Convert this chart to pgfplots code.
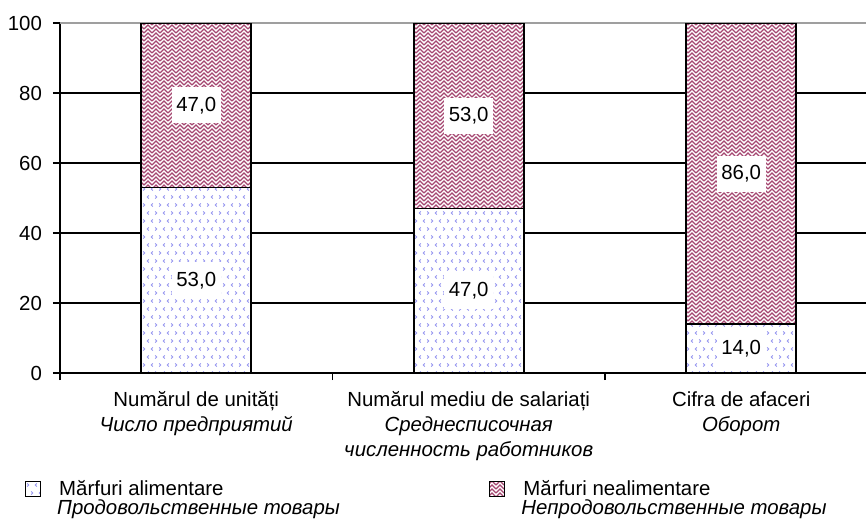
\documentclass[border=0pt]{standalone}
\usepackage{fontspec}
\setmainfont{Liberation Sans}
\usepackage{pgfplots}
\pgfplotsset{compat=1.18}
\usetikzlibrary{patterns}

\definecolor{foodc}{RGB}{150,150,240}
\definecolor{nonfoodc}{RGB}{165,70,112}

\pgfdeclarepatternformonly{foodpat}{\pgfqpoint{-1pt}{-1pt}}{\pgfqpoint{9pt}{9pt}}{\pgfqpoint{8pt}{8pt}}{%
  \pgfsetlinewidth{0.45pt}%
  \pgfpathmoveto{\pgfqpoint{2.4pt}{2.8pt}}\pgfpathlineto{\pgfqpoint{1.6pt}{2pt}}\pgfpathlineto{\pgfqpoint{2.4pt}{1.2pt}}%
  \pgfpathmoveto{\pgfqpoint{5.6pt}{2.8pt}}\pgfpathlineto{\pgfqpoint{6.4pt}{2pt}}\pgfpathlineto{\pgfqpoint{5.6pt}{1.2pt}}%
  \pgfpathmoveto{\pgfqpoint{4.4pt}{6.8pt}}\pgfpathlineto{\pgfqpoint{3.6pt}{6pt}}\pgfpathlineto{\pgfqpoint{4.4pt}{5.2pt}}%
  \pgfpathmoveto{\pgfqpoint{7.6pt}{6.8pt}}\pgfpathlineto{\pgfqpoint{8.4pt}{6pt}}\pgfpathlineto{\pgfqpoint{7.6pt}{5.2pt}}%
  \pgfusepath{stroke}}

\pgfdeclarepatternformonly{weavepat}{\pgfqpoint{-0.5pt}{-0.5pt}}{\pgfqpoint{4.5pt}{4.5pt}}{\pgfqpoint{4pt}{4pt}}{%
  \pgfsetlinewidth{0.6pt}%
  \pgfpathmoveto{\pgfqpoint{0pt}{0pt}}\pgfpathlineto{\pgfqpoint{2pt}{2pt}}\pgfpathlineto{\pgfqpoint{4pt}{0pt}}%
  \pgfpathmoveto{\pgfqpoint{0pt}{2pt}}\pgfpathlineto{\pgfqpoint{2pt}{4pt}}\pgfpathlineto{\pgfqpoint{4pt}{2pt}}%
  \pgfusepath{stroke}}

\pgfplotsset{boxlegend/.style={legend image code/.code={\draw[##1, line width=0.6pt] (0pt,-0.5pt) rectangle (7.5pt,7pt);}}}

\newcommand\lab{\fontsize{10.2pt}{12.5pt}\selectfont}
\newcommand\legA{\vtop{\baselineskip=9.5pt\lineskiplimit=-20pt
  \hbox to 224pt{\hspace*{9pt}Mărfuri alimentare\hfil}
  \hbox{\hspace*{8pt}\itshape Продовольственные товары}}}
\newcommand\legB{\vtop{\baselineskip=9.5pt\lineskiplimit=-20pt
  \hbox{\hspace*{9pt}Mărfuri nealimentare}
  \hbox{\hspace*{8pt}\itshape Непродовольственные товары}}}

\begin{document}
\begin{tikzpicture}
\useasboundingbox (0,0) rectangle (433pt,260.5pt);
\begin{axis}[
  at={(30pt,74pt)}, anchor=south west,
  scale only axis, width=403pt, height=175pt,
  xmin=-0.5, xmax=2.458, ymin=0, ymax=100,
  axis x line=bottom, axis y line=left,
  axis line style={-, line width=0.9pt, black},
  ybar stacked, bar width=55pt,
  xtick={-0.5,0.5,1.5}, xticklabels={,,},
  extra x ticks={0,1,2},
  extra x tick labels={{Numărul de unități\\\textit{Число предприятий}},
    {Numărul mediu de salariați\\\textit{Среднесписочная}\\\textit{численность работников}},
    {Cifra de afaceri\\\textit{Оборот}}},
  extra x tick style={tick style={draw=none}},
  ytick={0,20,40,60,80}, extra y ticks={100},
  ymajorgrids,
  major grid style={line width=0.9pt, black},
  extra y tick style={major grid style={line width=0.9pt, color=gray!75}},
  tick align=outside, major tick length=3.5pt,
  tick style={line width=0.9pt, black},
  /pgf/number format/assume math mode=true,
  tick label style={font=\lab},
  xticklabel style={align=center, inner sep=0pt, yshift=-5.5pt},
  yticklabel style={xshift=-2pt},
  legend columns=2,
  legend style={at={(axis description cs:-0.0434,-0.308)}, anchor=north west,
    draw=none, fill=none, inner sep=0pt, outer sep=0pt, column sep=0pt, row sep=0pt,
    font=\lab, cells={anchor=base west}, nodes={inner sep=0pt, text depth=}},
]
\addplot[fill=white, draw=black, line width=0.9pt,
  postaction={pattern=foodpat, pattern color=foodc}, boxlegend]
  coordinates {(0,53) (1,47) (2,14)};
\addplot[fill=white, draw=black, line width=0.9pt,
  postaction={pattern=weavepat, pattern color=nonfoodc}, boxlegend]
  coordinates {(0,47) (1,53) (2,86)};
\legend{\legA,\legB}
\end{axis}
\begin{axis}[
  at={(30pt,74pt)}, anchor=south west,
  scale only axis, width=403pt, height=175pt,
  xmin=-0.5, xmax=2.458, ymin=0, ymax=100,
  hide axis, clip=false]
\addplot[draw=none, mark=none, point meta=explicit symbolic, nodes near coords,
  nodes near coords style={anchor=center, fill=white, font=\lab, inner xsep=2.3pt, inner ysep=0pt, minimum height=18pt}]
  coordinates {(0,26.5) [{53,0}] (0,76.5) [{47,0}] (1,23.5) [{47,0}] (1,73.5) [{53,0}] (2,7) [{14,0}] (2,57) [{86,0}]};
\end{axis}
\end{tikzpicture}
\end{document}
